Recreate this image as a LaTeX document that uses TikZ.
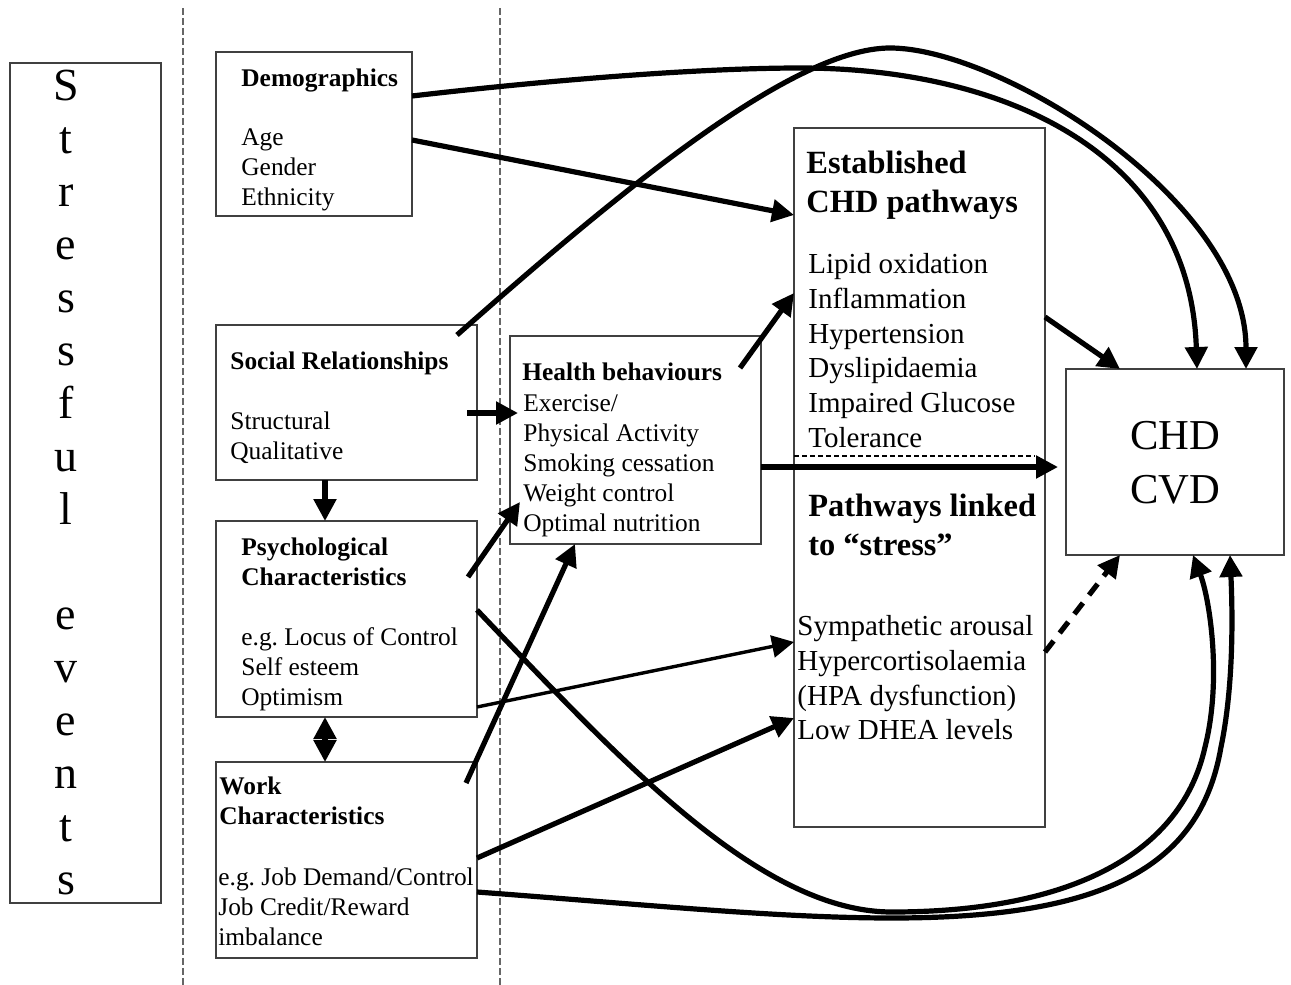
\documentclass[tikz,border=0pt]{standalone}
\usepackage{fontspec}
\setmainfont{Liberation Serif}
\usetikzlibrary{arrows.meta,calc,fit}

\begin{document}
\begin{tikzpicture}[x=0.5pt, y=-0.5pt,
		box/.style={draw=black!75, line width=0.75pt, inner sep=0pt, outer sep=0pt},
		txt/.style={anchor=north west, inner sep=0pt, align=left, font=\fontsize{12.7}{15}\selectfont},
		hd/.style={txt, font=\bfseries\fontsize{12.7}{15}\selectfont},
		big/.style={txt, font=\fontsize{14.5}{17.4}\selectfont},
		bighd/.style={txt, font=\bfseries\fontsize{16.2}{19.5}\selectfont},
		arr/.style={line width=2.6pt, -{Triangle[length=11pt, width=11pt]}},
		thinarr/.style={line width=1.7pt, -{Triangle[length=11pt, width=11pt]}},
		divider/.style={draw=black!60, line width=0.6pt, dash pattern=on 3.5pt off 1.5pt}]
				\path[use as bounding box, fill=white] (0,0) rectangle (1291,985);
				\draw[divider] (183,8) -- (183,985);
				\draw[divider] (500,8) -- (500,985);
				\node[box, fit={(10,63) (161,903)}] (stress) {};
				\node[anchor=north, inner sep=0pt, align=center, font=\fontsize{23}{26.45}\selectfont] (stresst) at (66,70) {S\\t\\r\\e\\s\\s\\f\\u\\l\\[26.45pt]e\\v\\e\\n\\t\\s};
				\node[box, fit={(216,52) (412,216)}] (demo) {};
				\node[hd] (demoh) at (241,68) {Demographics};
				\node[txt] (demob) at (241,128) {Age\\Gender\\Ethnicity};
				\node[box, fit={(216,325) (477,480)}] (social) {};
				\node[hd] (socialh) at (230,351) {Social Relationships};
				\node[txt] (socialb) at (230,411) {Structural\\Qualitative};
				\node[box, fit={(216,521) (477,717)}] (psych) {};
				\node[hd] (psychh) at (241,537) {Psychological\\Characteristics};
				\node[txt] (psychb) at (241,627) {e.g.\ Locus of Control\\Self esteem\\Optimism};
				\node[box, fit={(216,762) (477,958)}] (work) {};
				\node[hd] (workh) at (219,776) {Work\\Characteristics};
				\node[txt] (workb) at (218,867) {e.g.\ Job Demand/Control\\Job Credit/Reward\\imbalance};
				\node[box, fit={(510,336) (761,544)}] (health) {};
				\node[hd] (healthh) at (522,362) {Health behaviours};
				\node[txt] (healthb) at (523,394) {Exercise/\\Physical Activity\\Smoking cessation\\Weight control\\Optimal nutrition};
				\node[box, fit={(794,128) (1045,827)}] (paths) {};
				\node[bighd] (esth) at (806,151) {Established\\CHD pathways};
				\node[big] (estb) at (808,253) {Lipid oxidation\\Inflammation\\Hypertension\\Dyslipidaemia\\Impaired Glucose\\Tolerance};
				\node[bighd] (strh) at (808,494) {Pathways linked\\to “stress”};
				\node[big] (strb) at (797,615) {Sympathetic arousal\\Hypercortisolaemia\\(HPA dysfunction)\\Low DHEA levels};
				\node[box, fit={(1066,369) (1284,555)}] (chd) {};
				\node[align=center, inner sep=0pt, font=\fontsize{21.3}{27}\selectfont] (chdt) at (1175,463) {CHD\\CVD};
				\draw[line width=0.6pt, dash pattern=on 2.5pt off 1.5pt] ($(paths.north west)+(0,328)$) -- ($(paths.north east)+(-10,328)$);
				\draw[arr] ($(demo.north east)+(0,44)$) .. controls (550,80) and (700,68) .. (800,68) .. controls (1000,68) and (1190,150) .. ($(chd.north west)+(131,0)$);
				\draw[arr] ($(demo.north east)+(0,88)$) -- ($(paths.north west)+(0,87)$);
				\draw[arr] ($(social.north east)+(-20,10)$) .. controls (610,200) and (790,48) .. (890,48) .. controls (1000,48) and (1246,200) .. ($(chd.north west)+(180,0)$);
				\draw[arr] ($(social.north east)+(-10,88)$) -- ($(health.north west)+(8,77)$);
				\draw[arr] ($(social.south west)+(109,0)$) -- ($(psych.north west)+(109,0)$);
				\draw[line width=2.6pt, {Triangle[length=11pt, width=11pt]}-{Triangle[length=11pt, width=11pt]}] ($(psych.south west)+(109,0)$) -- ($(work.north west)+(109,0)$);
				\draw[arr] ($(psych.north east)+(-9,56)$) -- ($(health.north west)+(10,166)$);
				\draw[arr] ($(psych.north east)+(0,89)$) .. controls (620,760) and (760,912) .. (892,912) .. controls (1060,912) and (1180,860) .. (1205,747) .. controls (1222,680) and (1210,600) .. ($(chd.south west)+(127,0)$);
				\draw[arr] ($(work.north east)+(0,130)$) .. controls (650,905) and (780,918) .. (892,918) .. controls (1100,918) and (1200,870) .. (1221,747) .. controls (1235,680) and (1232,600) .. ($(chd.south west)+(164,0)$);
				\draw[arr] ($(work.north east)+(0,96)$) -- ($(paths.north west)+(0,590)$);
				\draw[thinarr] ($(psych.north east)+(0,186)$) -- ($(paths.north west)+(0,514)$);
				\draw[arr] ($(work.north east)+(-11,21)$) -- ($(health.south west)+(65,0)$);
				\draw[arr] ($(health.north east)+(-21,32)$) -- ($(paths.north west)+(0,165)$);
				\draw[arr] ($(health.north east)+(0,131)$) -- ($(chd.north west)+(-8,98)$);
				\draw[arr] ($(paths.north east)+(0,189)$) -- ($(chd.north west)+(54,0)$);
				\draw[arr, dash pattern=on 7pt off 5pt] ($(paths.north east)+(0,524)$) -- ($(chd.south west)+(54,0)$);
			\end{tikzpicture}
\end{document}
